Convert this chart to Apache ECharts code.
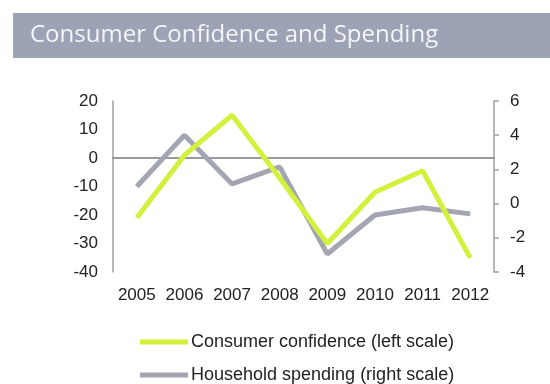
<!DOCTYPE html>
<html>
<head>
<meta charset="utf-8">
<script src="https://cdn.jsdelivr.net/npm/echarts@6/dist/echarts.min.js"></script>
<style>
  html, body { margin: 0; padding: 0; background: #fff; }
  #chart { width: 550px; height: 384px; }
</style>
</head>
<body>
<div id="chart"></div>
<script>
// Years on the category axis
const years = ['2005', '2006', '2007', '2008', '2009', '2010', '2011', '2012'];
// Consumer confidence, left scale
const confidence = [-21, 1, 15, -7, -30, -12, -4.5, -35];
// Household spending, right scale
const spending = [1.0, 4.0, 1.15, 2.15, -2.95, -0.67, -0.24, -0.6];
// Series names shown in the legend
const seriesNames = ['Consumer confidence (left scale)', 'Household spending (right scale)'];
const titleText = 'Consumer Confidence and Spending';

const chart = echarts.init(document.getElementById('chart'), null, { renderer: 'canvas' });

const labelFont = { fontFamily: 'Liberation Sans, Arial, sans-serif', fontSize: 17, color: '#222' };

// One legend entry per row, stacked under the plot
function legendRow(name, top) {
  return {
    orient: 'horizontal',
    left: 135,
    top: top,
    icon: 'rect',
    itemWidth: 48,
    itemHeight: 5,
    itemGap: 6,
    textStyle: { fontFamily: 'Liberation Sans, Arial, sans-serif', fontSize: 18, color: '#222', padding: [0, 0, 0, -2] },
    data: [name]
  };
}

chart.setOption({
  animation: false,
  graphic: [
    { type: 'rect', shape: { x: 13, y: 13, width: 537, height: 45 }, style: { fill: '#9ba3b5' } },
    { type: 'text', left: 30, top: 23, style: { text: titleText, fill: '#f4f5f8', fontSize: 24, fontFamily: 'Open Sans, sans-serif' } }
  ],
  grid: { left: 113, right: 56, top: 101, bottom: 112 },
  legend: [legendRow(seriesNames[0], 328), legendRow(seriesNames[1], 361)],
  xAxis: {
    type: 'category',
    data: years,
    boundaryGap: true,
    axisLine: { onZero: true, onZeroAxisIndex: 0, lineStyle: { color: '#7a7a7a', width: 1.5 } },
    axisTick: { show: false },
    axisLabel: Object.assign({ margin: 15, interval: 0 }, labelFont)
  },
  yAxis: [
    {
      type: 'value', min: -40, max: 20, interval: 10, position: 'left',
      splitLine: { show: false },
      axisLine: { show: true, lineStyle: { color: '#a0a0a0', width: 1.5 } },
      axisTick: { show: false },
      axisLabel: Object.assign({ margin: 15 }, labelFont)
    },
    {
      type: 'value', min: -4, max: 6, interval: 2, position: 'right',
      splitLine: { show: false },
      axisLine: { show: true, lineStyle: { color: '#a0a0a0', width: 1.5 } },
      axisTick: { show: true, length: 5, lineStyle: { color: '#a0a0a0', width: 1.5 } },
      axisLabel: Object.assign({ margin: 16 }, labelFont)
    }
  ],
  series: [
    {
      name: seriesNames[1], type: 'line', yAxisIndex: 1, data: spending,
      symbol: 'none', lineStyle: { color: '#a3a6b2', width: 5 }, itemStyle: { color: '#a3a6b2' }
    },
    {
      name: seriesNames[0], type: 'line', yAxisIndex: 0, data: confidence,
      symbol: 'none', lineStyle: { color: '#d3f03c', width: 5 }, itemStyle: { color: '#d3f03c' }
    }
  ]
});
</script>
</body>
</html>
